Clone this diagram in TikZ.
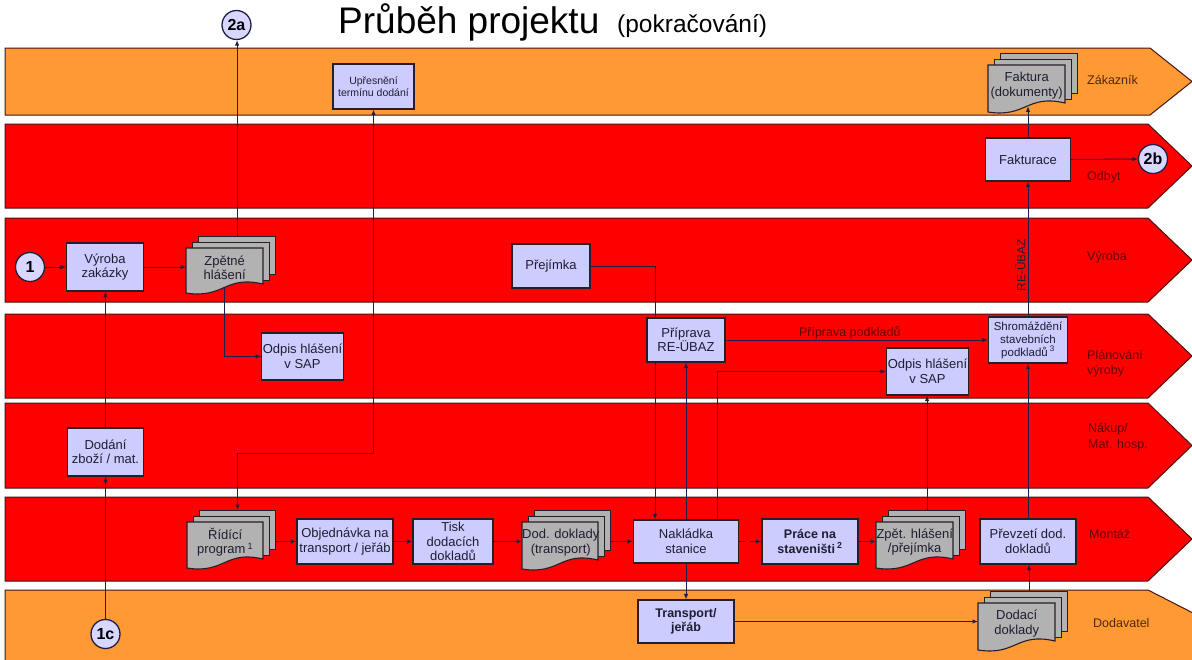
\documentclass[tikz,border=0pt]{standalone}
\usepackage{fontspec}
\setmainfont{Liberation Sans}
\usetikzlibrary{arrows.meta,calc}

\definecolor{laneorange}{RGB}{255,153,51}
\definecolor{lanered}{RGB}{255,0,0}
\definecolor{laneline}{RGB}{70,20,20}
\definecolor{boxfill}{RGB}{204,204,255}
\definecolor{boxline}{RGB}{40,30,40}
\definecolor{docgray}{RGB}{178,178,178}
\definecolor{flow}{RGB}{30,30,70}
\definecolor{inktext}{RGB}{30,30,50}
\definecolor{labelred}{RGB}{100,0,0}
\definecolor{labelbrown}{RGB}{80,40,10}
\definecolor{circfill}{RGB}{215,215,255}

\pgfdeclarelayer{lanes}
\pgfdeclarelayer{edges}
\pgfsetlayers{lanes,edges,main}

\tikzset{
  lane/.style={draw=laneline, line width=1pt, line join=miter},
  proc/.style={draw=boxline, fill=boxfill, line width=1.1pt, inner sep=1pt,
    align=center, text=inktext, font=\fontsize{13}{14.5}\selectfont},
  docsheet/.style={draw=boxline, fill=docgray, line width=1.1pt, inner sep=0pt},
  docfront/.style={draw=boxline, fill=docgray, line width=1.1pt},
  doctext/.style={inner sep=0pt, align=center, text=inktext,
    font=\fontsize{13}{14.5}\selectfont},
  circ/.style={circle, draw=flow, fill=circfill, line width=1.3pt,
    minimum size=29pt, inner sep=0pt, text=black,
    font=\bfseries\fontsize{16}{16}\selectfont},
  lanelabel/.style={anchor=west, align=left, inner sep=0pt,
    font=\fontsize{12.5}{15.5}\selectfont},
  arr/.style={draw=flow, line width=1pt, -{Latex[length=5.5pt,width=4.5pt]}},
}

% A stack of three documents; #1 name, #2 left, #3 top, #4 right,
% #5 bottom of the front sheet at its left edge, #6 text
\newcommand\docstack[6]{%
  \pgfmathsetmacro\dsW{#4-#2}%
  \pgfmathsetmacro\dsB{#5-#3-7}%
  \pgfmathsetmacro\dsF{#5-#3-6}%
  \node[docsheet, minimum width=\dsW pt, minimum height=\dsB pt, anchor=north west]
    (#1-b) at ({#2+12},{#3-12}) {};
  \node[docsheet, minimum width=\dsW pt, minimum height=\dsB pt, anchor=north west]
    (#1-m) at ({#2+6},{#3-6}) {};
  \filldraw[docfront] (#2,#3) -- (#4,#3) -- (#4,{#5-9})
    .. controls ({#4-0.5*\dsW},{#5-18}) and ({#2+0.5*\dsW},{#5+6}) .. (#2,#5) -- cycle;
  \node[doctext, minimum width=\dsW pt, minimum height=\dsF pt, anchor=north west]
    (#1) at (#2,#3) {#6};
}

\begin{document}
\begin{tikzpicture}[x=1pt, y=-1pt]
\useasboundingbox (0,0) rectangle (1192,659);

% ---------- swim lanes ----------
\begin{pgfonlayer}{lanes}
  \begin{scope}
    \clip (0,0) rectangle (1192,659);
    \path[lane, fill=laneorange] (5,48) -- (1150,48) -- (1192,81.5) -- (1150,115) -- (5,115) -- cycle;
    \path[lane, fill=lanered] (5,124) -- (1148,124) -- (1192,166) -- (1148,208) -- (5,208) -- cycle;
    \path[lane, fill=lanered] (5,218) -- (1148,218) -- (1192,260) -- (1148,302) -- (5,302) -- cycle;
    \path[lane, fill=lanered] (5,314) -- (1148,314) -- (1192,356) -- (1148,398) -- (5,398) -- cycle;
    \path[lane, fill=lanered] (5,403) -- (1148,403) -- (1192,445.5) -- (1148,488) -- (5,488) -- cycle;
    \path[lane, fill=lanered] (5,497) -- (1148,497) -- (1192,539) -- (1148,581) -- (5,581) -- cycle;
    \path[lane, fill=laneorange] (5,590) -- (1148,590) -- (1240,637) -- (1148,684) -- (5,684) -- cycle;
  \end{scope}
\end{pgfonlayer}

% ---------- title ----------
\node[anchor=base west, inner sep=0pt, font=\fontsize{37}{40}\selectfont] (title) at (338,33) {Průběh projektu};
\node[anchor=base west, inner sep=0pt, font=\fontsize{24.5}{27}\selectfont] (subtitle) at (617,32) {(pokračování)};

% ---------- lane labels ----------
\node[lanelabel, text=labelbrown] (lzak) at (1087,80) {Zákazník};
\node[lanelabel, text=labelred] (lodb) at (1087,177) {Odbyt};
\node[lanelabel, text=labelred] (lvyr) at (1087,257) {Výroba};
\node[lanelabel, text=labelred] (lpla) at (1087,363.5) {Plánování\\výroby};
\node[lanelabel, text=labelred] (lnak) at (1088,437) {Nákup/\\Mat. hosp.};
\node[lanelabel, text=labelred] (lmon) at (1089,534) {Montáž};
\node[lanelabel, text=labelbrown] (ldod) at (1093,623) {Dodavatel};

% ---------- connector circles ----------
\node[circ] (c2a) at (236.5,25) {2a};
\node[circ] (c2b) at (1153,159) {2b};
\node[circ] (c1) at (30,267) {1};
\node[circ] (c1c) at (105.5,634) {1c};

% ---------- process boxes ----------
\node[proc, minimum width=81pt, minimum height=45pt, font=\fontsize{10.5}{12.5}\selectfont] (upres) at (373.5,86.5) {Upřesnění\\termínu dodání};
\node[proc, minimum width=85pt, minimum height=43pt] (fakturace) at (1028,159.5) {Fakturace};
\node[proc, minimum width=77pt, minimum height=48pt] (vyroba) at (105,267) {Výroba\\zakázky};
\node[proc, minimum width=78pt, minimum height=44pt] (prejimka) at (551,266) {Přejímka};
\node[proc, minimum width=79pt, minimum height=47pt] (odpis1) at (302.5,356.5) {Odpis hlášení\\v SAP};
\node[proc, minimum width=78pt, minimum height=44pt] (priprava) at (686,340) {Příprava\\RE-ÜBAZ};
\node[proc, minimum width=79pt, minimum height=46pt, font=\fontsize{11.5}{13}\selectfont] (shrom) at (1028,340) {Shromáždění\\stavebních\\podkladů\,\textsuperscript{3}};
\node[proc, minimum width=79pt, minimum height=47pt] (odpis2) at (927.5,371.5) {Odpis hlášení\\v SAP};
\node[proc, minimum width=76pt, minimum height=48pt] (dodani) at (105.5,452) {Dodání\\zboží / mat.};
\node[proc, minimum width=96pt, minimum height=45pt] (objed) at (345,541.5) {Objednávka na\\transport / jeřáb};
\node[proc, minimum width=80pt, minimum height=45pt] (tisk) at (453,541.5) {Tisk\\dodacích\\dokladů};
\node[proc, minimum width=105pt, minimum height=43pt] (naklad) at (686,541.5) {Nakládka\\stanice};
\node[proc, minimum width=96pt, minimum height=45pt, font=\bfseries\fontsize{12.5}{14.5}\selectfont] (prace) at (810,541.5) {Práce na\\staveništi\,\textsuperscript{2}};
\node[proc, minimum width=96pt, minimum height=45pt] (prevzeti) at (1028,541.5) {Převzetí dod.\\dokladů};
\node[proc, minimum width=96pt, minimum height=43pt, font=\bfseries\fontsize{12.5}{14.5}\selectfont] (transport) at (686,621.5) {Transport/\\jeřáb};

% ---------- document stacks ----------
\docstack{zpetne}{186}{248}{263}{293}{Zpětné\\hlášení}
\docstack{faktura}{988}{65}{1065}{112}{Faktura\\(dokumenty)}
\docstack{ridici}{187}{522}{263}{568}{Řídící\\program\,\textsuperscript{1}}
\docstack{dod}{522}{522}{598}{569}{Dod. doklady\\(transport)}
\docstack{zpet2}{876}{522}{953}{568}{Zpět. hlášení\\/přejímka}
\docstack{dodaci}{978}{603}{1055}{650}{Dodací\\doklady}

% ---------- connectors ----------
\begin{pgfonlayer}{edges}
  \draw[arr] (c1.east) -- (vyroba.west);
  \draw[arr] (vyroba.east) -- (vyroba.east -| zpetne.west);
  \draw[arr] (zpetne-b.north) -- (zpetne-b.north |- c2a.south);
  \draw[arr] (zpetne.south) |- (odpis1.west);
  \draw[arr] (dodani.north) -- (dodani.north |- vyroba.south);
  \draw[arr] (c1c.north) -- (c1c.north |- dodani.south);
  \draw[arr, {Latex[length=5.5pt,width=4.5pt]}-{Latex[length=5.5pt,width=4.5pt]}]
    (upres.south) |- ([yshift=57pt]ridici-b.north) -- (ridici-b.north);
  \draw[arr] (ridici-b.east |- objed.west) -- (objed.west);
  \draw[arr] (objed.east) -- (tisk.west);
  \draw[arr] (tisk.east) -- (tisk.east -| dod.west);
  \draw[arr] (dod-b.east |- naklad.west) -- (naklad.west);
  \draw[arr, dash pattern=on 6pt off 5pt] (naklad.east) -- (prace.west);
  \draw[arr] (prace.east) -- (prace.east -| zpet2.west);
  \draw[arr] (prejimka.east) -| ([xshift=-31pt]naklad.north);
  \draw[arr] (naklad.north) -- (priprava.south);
  \draw[arr] ([xshift=31pt]naklad.north) |- (odpis2.west);
  \draw[arr] (priprava.east) -- (priprava.east -| shrom.west)
    node[midway, anchor=base, yshift=4pt, xshift=-7pt, inner sep=0pt, text=labelred,
      font=\fontsize{12.5}{14}\selectfont] (lpodk) {Příprava podkladů};
  \draw[arr] (zpet2-b.north) -- (zpet2-b.north |- odpis2.south);
  \draw[arr] (prevzeti.north) -- (shrom.south);
  \draw[arr] (dodaci-b.north) -- (dodaci-b.north |- prevzeti.south);
  \draw[arr] (naklad.south) -- (transport.north);
  \draw[arr] (transport.east) -- (transport.east -| dodaci.west);
  \draw[arr] (shrom.north) -- node[pos=0.38, rotate=90, anchor=south, inner sep=2pt,
      text=inktext, font=\fontsize{12}{14}\selectfont] (lreubaz) {RE-ÜBAZ} (fakturace.south);
  \draw[arr] (fakturace.north) -- (fakturace.north |- faktura.south);
  \draw[arr] (fakturace.east) -- (c2b.west);
\end{pgfonlayer}
\end{tikzpicture}
\end{document}
